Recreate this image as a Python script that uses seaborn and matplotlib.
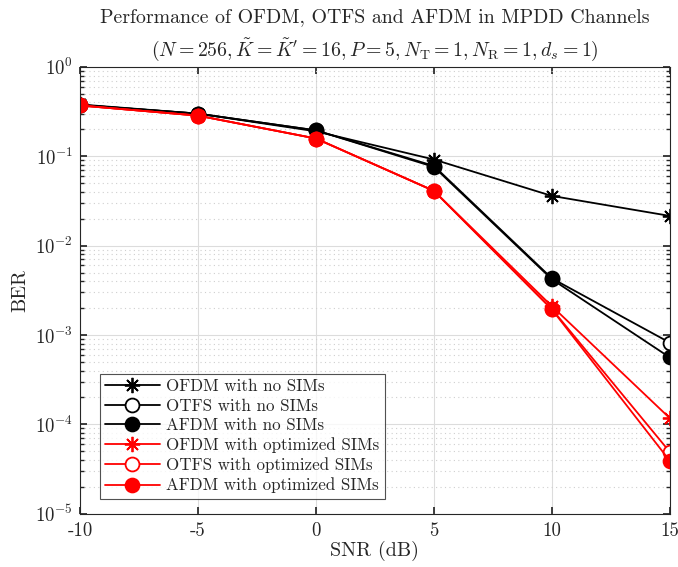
import numpy as np
import pandas as pd
import seaborn as sns
import matplotlib.pyplot as plt
from matplotlib.ticker import LogLocator, NullFormatter

# data
snr = [-10, -5, 0, 5, 10, 15]
ofdm_no = [0.38, 0.30, 0.19, 0.092, 0.036, 0.0215]
otfs_no = [0.375, 0.30, 0.195, 0.078, 0.0043, 0.00082]
afdm_no = [0.375, 0.30, 0.195, 0.076, 0.0042, 0.00056]
ofdm_opt = [0.37, 0.285, 0.158, 0.041, 0.0021, 0.000117]
otfs_opt = [0.37, 0.285, 0.158, 0.041, 0.00195, 0.000049]
afdm_opt = [0.37, 0.285, 0.158, 0.041, 0.00193, 0.000039]

labels = ["OFDM with no SIMs", "OTFS with no SIMs", "AFDM with no SIMs",
          "OFDM with optimized SIMs", "OTFS with optimized SIMs", "AFDM with optimized SIMs"]
series = [ofdm_no, otfs_no, afdm_no, ofdm_opt, otfs_opt, afdm_opt]
colors = ["black", "black", "black", "red", "red", "red"]
markers = [(8, 2, 0), "o", "o", (8, 2, 0), "o", "o"]
faces = ["black", "white", "black", "red", "white", "red"]

sns.set_theme(style="ticks")
plt.rcParams["font.family"] = ["cmr10", "DejaVu Serif"]
plt.rcParams["mathtext.fontset"] = "cm"
plt.rcParams["axes.formatter.use_mathtext"] = True

fig = plt.figure(figsize=(6.78, 5.67), dpi=100)
ax = fig.add_axes([0.118, 0.094, 0.870, 0.788])

for lab, vals, c, m, fc in zip(labels, series, colors, markers, faces):
    df = pd.DataFrame({"SNR": snr, "BER": vals})
    sns.lineplot(data=df, x="SNR", y="BER", ax=ax, color=c, marker=m,
                 markersize=10 if m == "o" else 11, markerfacecolor=fc,
                 markeredgecolor=c, markeredgewidth=1.3, linewidth=1.3,
                 label=lab)

ax.set_yscale("log")
ax.set_xlim(-10, 15)
ax.set_ylim(1e-5, 1)
ax.set_xticks([-10, -5, 0, 5, 10, 15])
ax.set_xticklabels(["-10", "-5", "0", "5", "10", "15"])
ax.yaxis.set_major_locator(LogLocator(base=10, numticks=10))
ax.yaxis.set_minor_locator(LogLocator(base=10, subs=np.arange(2, 10), numticks=10))
ax.yaxis.set_minor_formatter(NullFormatter())

ax.grid(True, which="major", color="#dcdcdc", linewidth=0.8)
ax.grid(True, which="minor", axis="y", color="#cfcfcf", linestyle=(0, (1, 3)), linewidth=0.8)
ax.set_axisbelow(True)
for s in ax.spines.values():
    s.set_color("#262626")
    s.set_linewidth(0.8)
ax.tick_params(which="both", direction="in", top=True, right=True, labelsize=13.5, colors="#262626")
ax.tick_params(axis="x", which="major", pad=6)
ax.tick_params(axis="y", which="major", pad=5)
ax.tick_params(which="major", length=5)
ax.tick_params(which="minor", length=3)

ax.set_xlabel("SNR (dB)", fontsize=14.5, labelpad=1)
ax.set_ylabel("BER", fontsize=14.5)
ax.set_title("Performance of OFDM, OTFS and AFDM in MPDD Channels\n"
             r"$(N=256,\tilde{K}=\tilde{K}'=16,P=5,N_{\mathrm{T}}=1,N_{\mathrm{R}}=1,d_s=1)$",
             fontsize=14.3, linespacing=1.5, pad=8)

leg = ax.legend(loc="lower left", bbox_to_anchor=(0.02, 0.015), fontsize=12.2,
                frameon=True, fancybox=False, edgecolor="#262626",
                handlelength=3.2, borderpad=0.3, labelspacing=0.25, handletextpad=0.4)
leg.get_frame().set_linewidth(0.8)

fig.savefig("out.png", dpi=100)
